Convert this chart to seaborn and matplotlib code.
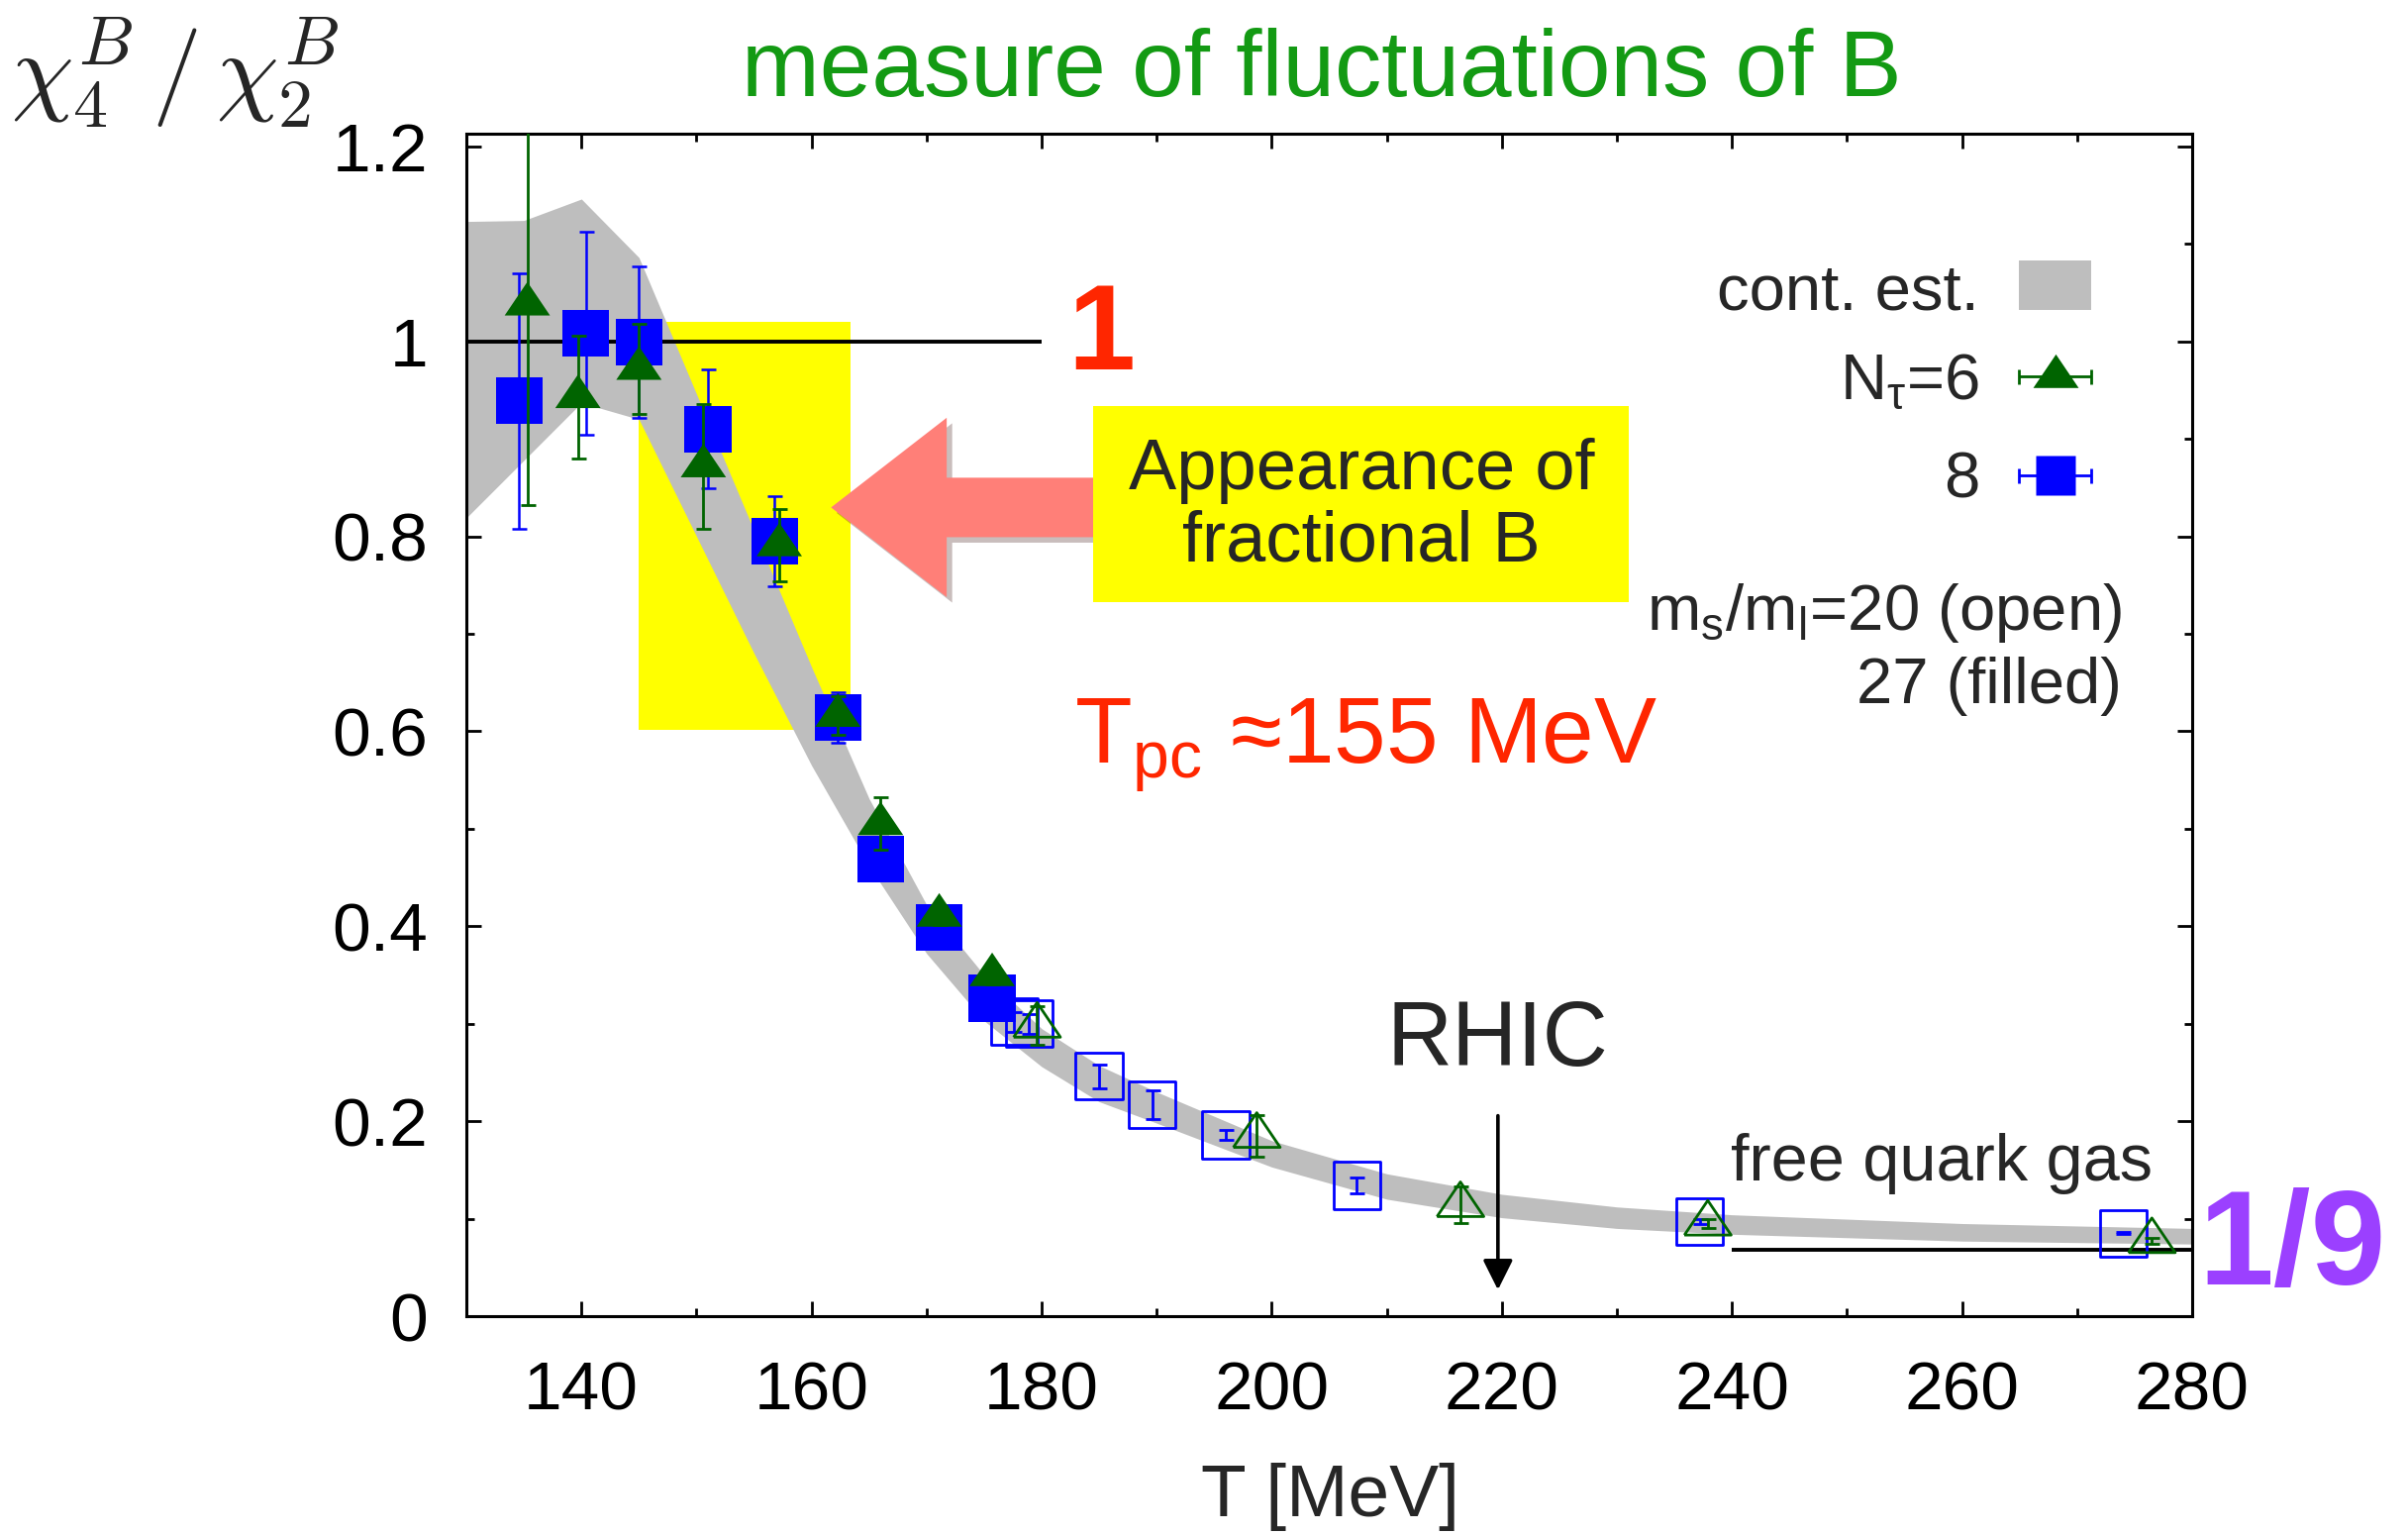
import numpy as np
import pandas as pd
import matplotlib
matplotlib.use("Agg")
import matplotlib.pyplot as plt
import matplotlib.patheffects as pe
from matplotlib.patches import Rectangle, FancyArrow
from matplotlib.ticker import MultipleLocator, FuncFormatter
import seaborn as sns

# continuum estimate band (T, lower edge, upper edge)
band_T = [130, 135, 140, 145, 150, 155, 160, 165, 170, 175, 180, 185, 190,
          200, 210, 220, 230, 240, 260, 280]
band_lo = [0.819, 0.878, 0.937, 0.920, 0.800, 0.680, 0.565, 0.462, 0.372, 0.303,
           0.256, 0.220, 0.198, 0.153, 0.120, 0.101, 0.090, 0.084, 0.077, 0.074]
band_hi = [1.123, 1.124, 1.146, 1.086, 0.946, 0.806, 0.666, 0.531, 0.422, 0.350,
           0.295, 0.257, 0.230, 0.180, 0.146, 0.125, 0.112, 0.104, 0.095, 0.090]

# N_tau = 6, ms/ml = 27 (filled triangles)
T6_filled = [135.3, 139.7, 145.0, 150.6, 157.2, 162.3, 166.0, 171.1, 175.7]
R6_filled = [1.038, 0.943, 0.972, 0.872, 0.791, 0.616, 0.505, 0.411, 0.350]
E6_filled = [0.206, 0.063, 0.046, 0.064, 0.037, 0.020, 0.027, 0.010, 0.010]

# N_tau = 8, ms/ml = 27 (filled squares)
T8_filled = [134.6, 140.4, 145.0, 151.0, 156.8, 162.3, 166.0, 171.1, 175.7]
R8_filled = [0.939, 1.008, 0.999, 0.910, 0.795, 0.614, 0.469, 0.399, 0.326]
E8_filled = [0.131, 0.104, 0.078, 0.061, 0.046, 0.026, 0.015, 0.010, 0.010]

# ms/ml = 20 (open symbols)
T6_open = [179.6, 198.7, 216.4, 237.9, 276.5]
R6_open = [0.298, 0.185, 0.114, 0.095, 0.077]
E6_open = [0.020, 0.021, 0.019, 0.005, 0.003]

T8_open = [177.6, 178.9, 185.0, 189.6, 196.0, 207.4, 237.2, 274.0]
R8_open = [0.302, 0.300, 0.246, 0.217, 0.186, 0.134, 0.097, 0.085]
E8_open = [0.010, 0.010, 0.012, 0.015, 0.005, 0.008, 0.003, 0.001]

one_level = 1.0
fqg_level = 0.0676
x_ticks = [140, 160, 180, 200, 220, 240, 260, 280]
y_ticks = [0, 0.2, 0.4, 0.6, 0.8, 1.0, 1.2]

GREEN = "#006400"
BLUE = "#0000ff"
RED = "#ff2600"
tri = [(-1, -0.493), (1, -0.493), (0, 0.987), (-1, -0.493)]

sns.set_theme(style="ticks")
plt.rcParams["font.family"] = ["Liberation Sans", "DejaVu Sans"]

fig = plt.figure(figsize=(12.16, 7.75), dpi=200)
ax = fig.add_axes([0.19367, 0.14258, 0.71669, 0.77032])

ax.add_patch(Rectangle((145.0, 0.601), 18.4, 0.419, fc="#ffff00", ec="none", zorder=1))
ax.fill_between(band_T, band_lo, band_hi, color="#bebebe", lw=0, zorder=2)

ax.hlines(one_level, 130, 180, color="black", lw=1.4, zorder=3)
ax.hlines(fqg_level, 240, 280, color="black", lw=1.4, zorder=3)

arr = FancyArrow(184.6, 0.8296, -22.9, 0, width=0.061, head_width=0.184,
                 head_length=10.05, length_includes_head=True,
                 fc="#ff7f78", ec="none", zorder=3)
arr.set_path_effects([pe.SimplePatchShadow(offset=(2, -2), alpha=0.3), pe.Normal()])
ax.add_patch(arr)
ax.add_patch(Rectangle((184.5, 0.732), 46.57, 0.202, fc="#ffff00", ec="none", zorder=3))
ax.text(207.8, 0.830, "Appearance of\nfractional B", ha="center", va="center",
        fontsize=26, linespacing=1.1, zorder=4)

# data points
d8f = pd.DataFrame({"T": T8_filled, "R": R8_filled})
d6f = pd.DataFrame({"T": T6_filled, "R": R6_filled})
d8o = pd.DataFrame({"T": T8_open, "R": R8_open})
d6o = pd.DataFrame({"T": T6_open, "R": R6_open})

sns.scatterplot(data=d8o, x="T", y="R", marker="s", s=17**2, color=BLUE,
                facecolor="none", edgecolor=BLUE, linewidth=1.0, zorder=4, ax=ax)
ax.errorbar(T8_open, R8_open, yerr=E8_open, fmt="none", ecolor=BLUE, elinewidth=1.0,
            capsize=2.7, capthick=1.0, zorder=4)
sns.scatterplot(data=d6o, x="T", y="R", marker=tri, s=17**2, color=GREEN,
                facecolor="none", edgecolor=GREEN, linewidth=1.0, zorder=4, ax=ax)
ax.errorbar(T6_open, R6_open, yerr=E6_open, fmt="none", ecolor=GREEN, elinewidth=1.0,
            capsize=2.7, capthick=1.0, zorder=4)

sns.scatterplot(data=d8f, x="T", y="R", marker="s", s=17**2, color=BLUE,
                edgecolor="none", linewidth=0, zorder=5, ax=ax)
ax.errorbar(T8_filled, R8_filled, yerr=E8_filled, fmt="none", ecolor=BLUE,
            elinewidth=0.9, capsize=2.7, capthick=0.9, zorder=5)
sns.scatterplot(data=d6f, x="T", y="R", marker=tri, s=16.5**2, color=GREEN,
                edgecolor="none", linewidth=0, zorder=6, ax=ax)
ax.errorbar(T6_filled, R6_filled, yerr=E6_filled, fmt="none", ecolor=GREEN,
            elinewidth=1.0, capsize=2.7, capthick=1.0, zorder=6)

# legend, drawn by hand
ax.text(261.5, 1.0324, "cont. est.", ha="right", va="baseline", fontsize=23.5)
ax.add_patch(Rectangle((264.9, 1.032), 6.3, 0.051, fc="#bebebe", ec="none", zorder=3))
ax.text(261.5, 0.9407, r"N$_{\mathregular{τ}}$=6", ha="right", va="baseline", fontsize=23.5)
ax.errorbar([268.1], [0.964], xerr=[3.15], fmt="none", ecolor=GREEN, elinewidth=1.0,
            capsize=2.7, capthick=1.0, zorder=6)
ax.plot([268.1], [0.964], marker=tri, ms=16.5, color=GREEN, mec="none", ls="none", zorder=6)
ax.text(261.5, 0.8395, "8", ha="right", va="baseline", fontsize=23.5)
ax.errorbar([268.1], [0.863], xerr=[3.15], fmt="none", ecolor=BLUE, elinewidth=1.0,
            capsize=2.7, capthick=1.0, zorder=6)
ax.plot([268.1], [0.863], marker="s", ms=14.5, color=BLUE, mec="none", ls="none", zorder=6)
ax.text(273.9, 0.7036, r"m$_{\mathregular{s}}$/m$_{\mathregular{l}}$=20 (open)",
        ha="right", va="baseline", fontsize=23.5)
ax.text(273.9, 0.629, "27 (filled)", ha="right", va="baseline", fontsize=23.5)

# annotations
ax.text(185.2, 1.004, "1", ha="center", va="center", fontsize=44,
        fontweight="bold", color=RED)
ax.text(182.8, 0.5676, r"T$_{\mathregular{pc}}$ ≈155 MeV", ha="left", va="baseline",
        fontsize=34, color=RED)
ax.text(219.6, 0.281, "RHIC", ha="center", va="center", fontsize=33)
ax.annotate("", xy=(219.66, 0.027), xytext=(219.66, 0.2056),
            arrowprops=dict(arrowstyle="-|>", color="black", lw=1.3,
                            mutation_scale=23, shrinkA=0, shrinkB=0))
ax.text(239.9, 0.139, "free quark gas", ha="left", va="baseline", fontsize=24)

# axes
ax.set_xlim(130, 280)
ax.set_ylim(0, 1.213)
ax.set_xticks(x_ticks)
ax.set_yticks(y_ticks)
ax.xaxis.set_minor_locator(MultipleLocator(10))
ax.yaxis.set_minor_locator(MultipleLocator(0.1))
ax.yaxis.set_major_formatter(FuncFormatter(lambda v, p: f"{v:g}"))
ax.tick_params(which="both", direction="in", top=True, right=True, width=1.0,
               color="black", labelsize=25, labelcolor="black")
ax.tick_params(which="major", length=5.4)
ax.tick_params(which="minor", length=2.9)
ax.tick_params(axis="x", pad=16)
ax.tick_params(axis="y", pad=14)
ax.set_xlabel("")
ax.set_ylabel("")
for sp in ax.spines.values():
    sp.set_color("black")
    sp.set_linewidth(1.1)
ax.set_facecolor("white")

fig.text(0.549, 0.953, "measure of fluctuations of B", ha="center", va="center",
         fontsize=34, color="#139a13")
fig.text(0.5524, 0.047, "T [MeV]", ha="center", va="top", fontsize=27)
fig.text(0.0724, 0.952, r"$\chi_4^B\,/\,\chi_2^B$", ha="center", va="center",
         fontsize=36, math_fontfamily="cm")
fig.text(0.952, 0.186, "1/9", ha="center", va="center", fontsize=49,
         fontweight="bold", color="#9b40ff")

fig.savefig("out.png", dpi=200, facecolor="white")
